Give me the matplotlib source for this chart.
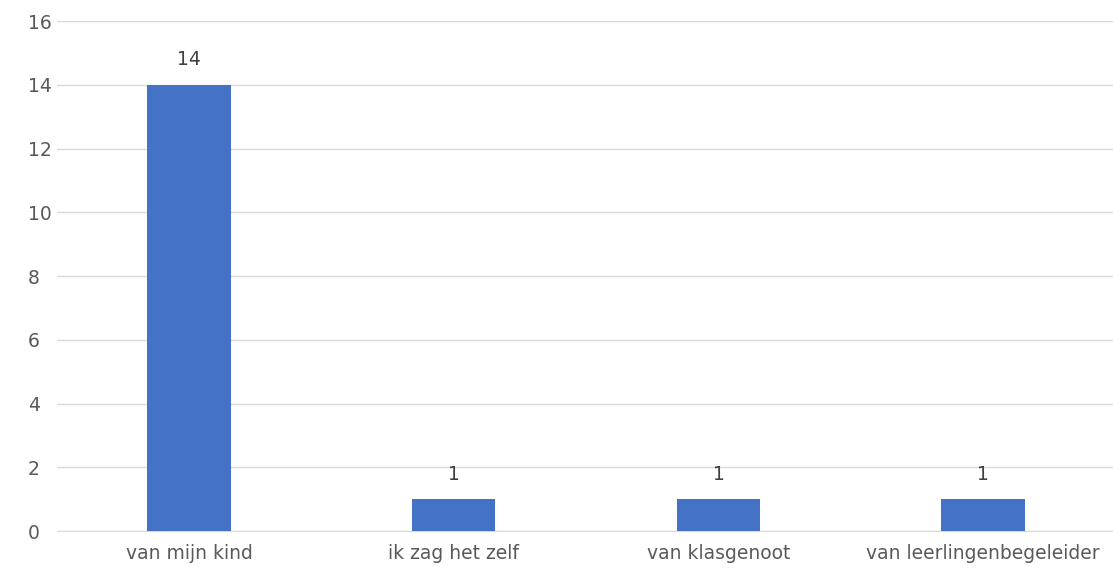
import matplotlib.pyplot as plt

categories = ["van mijn kind", "ik zag het zelf", "van klasgenoot", "van leerlingenbegeleider"]
values = [14, 1, 1, 1]
yticks = [0, 2, 4, 6, 8, 10, 12, 14, 16]

fig = plt.figure(figsize=(11.13, 5.79), dpi=100)
ax = fig.add_axes([0.0510, 0.0829, 0.9512, 0.8808])
x = range(len(categories))
bars = ax.bar(x, values, width=0.315, color="#4472C4", zorder=3)
ax.set_xlim(-0.5, len(categories) - 0.5)
ax.set_ylim(0, 16)
ax.set_yticks(yticks)
ax.set_xticks(list(x))
ax.set_xticklabels(categories)
ax.grid(axis="y", color="#d9d9d9", linewidth=1, zorder=0)
for s in ["top", "right", "left"]:
    ax.spines[s].set_visible(False)
ax.spines["bottom"].set_color("#d9d9d9")
ax.tick_params(axis="both", length=0, labelsize=13.5, colors="#595959", pad=9)
ax.tick_params(axis="y", pad=21)
for lab in ax.get_yticklabels():
    lab.set_horizontalalignment("left")
for b, v in zip(bars, values):
    ax.annotate(str(v), (b.get_x() + b.get_width() / 2, v), xytext=(0, 11),
                textcoords="offset points", ha="center", va="bottom",
                fontsize=13.5, color="#404040")
fig.savefig("out.png", dpi=100)
